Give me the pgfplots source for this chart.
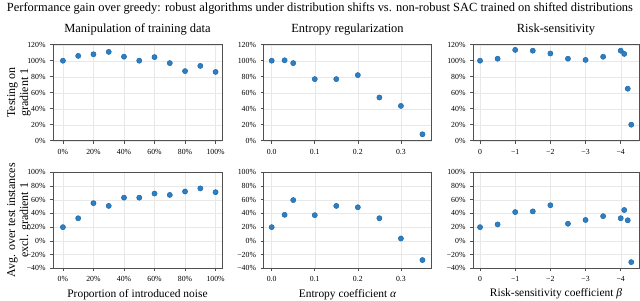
\documentclass[border=0pt]{standalone}
\usepackage{fontspec}
\setmainfont{Liberation Serif}
\usepackage{pgfplots}
\pgfplotsset{compat=1.18}
\definecolor{pt}{RGB}{45,127,193}
\definecolor{ptedge}{RGB}{31,105,170}
\definecolor{frame}{RGB}{80,80,80}
\pgfplotsset{
  base/.style={
    scale only axis, height=96bp,
    tick align=outside, tick pos=left,
    grid=major, grid style={black!9, line width=0.4bp},
    axis line style={frame, line width=0.7bp},
    tick style={frame, line width=0.6bp},
    major tick length=3bp,
    tick label style={font=\fontsize{7.8}{8}\selectfont},
    label style={font=\fontsize{11.5}{12}\selectfont},
    title style={font=\fontsize{12.5}{13}\selectfont, at={(0.5,1)}, anchor=south, yshift=0bp},
    ylabel style={align=center, font=\fontsize{12}{13}\selectfont},
    yticklabel style={xshift=-1bp},
    xticklabel style={yshift=-2bp},
  },
  pts/.style={only marks, mark=*, mark size=2.6bp, mark options={fill=pt, draw=ptedge, line width=0.5bp}},
  row1/.style={base, ymin=0, ymax=120, ytick={0,20,...,120},
    yticklabels={0\%,20\%,40\%,60\%,80\%,100\%,120\%}},
  row2/.style={base, ymin=-40, ymax=100, ytick={-40,-20,...,100},
    yticklabels={−40\%,−20\%,0\%,20\%,40\%,60\%,80\%,100\%}},
  col1/.style={width=169bp, xmin=-6.5, xmax=104.2, xtick={0,20,...,100},
    xticklabels={0\%,20\%,40\%,60\%,80\%,100\%}},
  col2/.style={width=168bp, xmin=-0.019, xmax=0.371, xtick={0,0.1,0.2,0.3},
    xticklabels={0.0,0.1,0.2,0.3}},
  col3/.style={width=166bp, x dir=reverse, xmin=-4.52, xmax=0.2, xtick={-4,-3,-2,-1,0},
    xticklabels={−4,−3,−2,−1,0}},
  ylab/.style={ylabel style={at={(axis description cs:-0.2012,0.5)}, anchor=center}},
}
\begin{document}
\begin{tikzpicture}
\path[use as bounding box] (0,0) rectangle (640bp,-301bp);
\node[font=\fontsize{12.5}{13}\selectfont] at (320bp,-8.5bp) {Performance gain over greedy: robust algorithms under distribution shifts vs. non-robust SAC trained on shifted distributions};

% Row 1
\begin{axis}[row1, col1, ylab, at={(53bp,-140.7bp)}, anchor=south west,
  title={Manipulation of training data}, ylabel={Testing on\\gradient 1}]
\addplot[pts] coordinates {(0,100) (10,106) (20,108) (30,111) (40,105) (50,100) (60,104.5) (70,97) (80,87) (90,93.5) (100,86)};
\end{axis}
\begin{axis}[row1, col2, at={(263.5bp,-140.7bp)}, anchor=south west,
  title={Entropy regularization}]
\addplot[pts] coordinates {(0,100) (0.03,100.5) (0.05,97) (0.1,77) (0.15,77) (0.2,82) (0.25,54) (0.3,43.5) (0.35,8)};
\end{axis}
\begin{axis}[row1, col3, at={(473bp,-140.7bp)}, anchor=south west,
  title={Risk-sensitivity}]
\addplot[pts] coordinates {(0,100) (-0.5,102.5) (-1,113.5) (-1.5,112.5) (-2,109) (-2.5,102.5) (-3,101) (-3.5,105) (-4,112.5) (-4.1,108.5) (-4.2,65) (-4.3,20)};
\end{axis}

% Row 2
\begin{axis}[row2, col1, ylab, at={(53bp,-268.3bp)}, anchor=south west,
  xlabel={Proportion of introduced noise}, ylabel={Avg. over test instances\\excl. gradient 1}]
\addplot[pts] coordinates {(0,20) (10,33) (20,55) (30,51) (40,63) (50,63) (60,69) (70,67) (80,72) (90,76.5) (100,71)};
\end{axis}
\begin{axis}[row2, col2, at={(263.5bp,-268.3bp)}, anchor=south west,
  xlabel={Entropy coefficient {\itshape α}}]
\addplot[pts] coordinates {(0,20) (0.03,38) (0.05,59.5) (0.1,37.5) (0.15,51) (0.2,49) (0.25,33) (0.3,3.5) (0.35,-28)};
\end{axis}
\begin{axis}[row2, col3, at={(473bp,-268.3bp)}, anchor=south west,
  xlabel={Risk-sensitivity coefficient {\itshape β}}]
\addplot[pts] coordinates {(0,20) (-0.5,24) (-1,42) (-1.5,43) (-2,52) (-2.5,25) (-3,30.5) (-3.5,36) (-4,33) (-4.1,45) (-4.2,30) (-4.3,-31)};
\end{axis}
\end{tikzpicture}
\end{document}
